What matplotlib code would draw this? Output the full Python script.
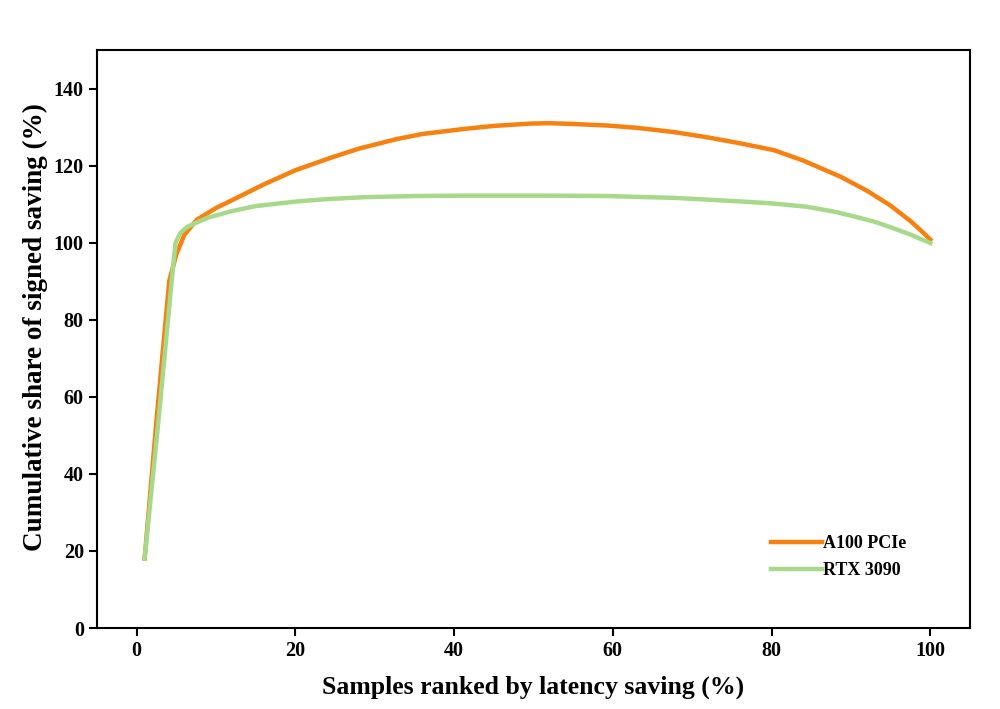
import matplotlib.pyplot as plt
import numpy as np

plt.rcParams['font.family'] = ['Liberation Serif', 'DejaVu Serif']
plt.rcParams['font.weight'] = 'bold'

a100_x = [1, 2.5, 4.1, 5, 6, 7.6, 10, 12, 16, 20, 24.4, 28, 32.8, 36, 41.2, 45, 49.6, 52,
          55, 59.3, 63, 67.7, 72, 76, 80.3, 84, 88.7, 92, 95, 97.5, 99, 100]
a100_y = [18, 54, 90, 97, 102, 106, 109, 111, 115.1, 118.8, 122, 124.4, 126.9, 128.2, 129.5,
          130.3, 130.9, 131, 130.8, 130.4, 129.8, 128.7, 127.3, 125.8, 124, 121.3, 117.1,
          113.5, 109.6, 105.6, 102.8, 100.8]

rtx_x = [1, 2.8, 4.5, 4.9, 5.5, 6.3, 7.3, 9, 11.8, 15, 20.2, 24, 28.6, 35, 41.2, 51.7,
         59.3, 68, 76.1, 80, 84.5, 88, 90.8, 93, 95, 97.5, 100]
rtx_y = [18, 55, 92, 100, 102.5, 104, 105, 106.5, 108.1, 109.5, 110.7, 111.3, 111.8, 112.1,
         112.2, 112.2, 112.1, 111.6, 110.7, 110.2, 109.3, 108, 106.6, 105.4, 104, 102.1, 99.9]

fig = plt.figure(figsize=(10, 7.09), dpi=100)
ax = fig.add_axes([0.097, 0.1142, 0.873, 0.8153])

ax.plot(a100_x, a100_y, color='#F8800F', lw=3.2, label='A100 PCIe')
ax.plot(rtx_x, rtx_y, color='#A8D98A', lw=3.2, label='RTX 3090')

ax.set_xlim(-5, 105)
ax.set_ylim(0, 150)
ax.set_xticks(np.arange(0, 101, 20))
ax.set_yticks(np.arange(0, 141, 20))
ax.tick_params(direction='out', length=6, width=1.5, labelsize=14.5)
for s in ax.spines.values():
    s.set_linewidth(1.5)

ax.set_xlabel('Samples ranked by latency saving (%)', fontsize=18.5, fontweight='bold', labelpad=10)
ax.set_ylabel('Cumulative share of signed saving (%)', fontsize=19.5, fontweight='bold', labelpad=4)
ax.yaxis.label.set_y(0.52)

ax.legend(loc='lower right', frameon=False, fontsize=13, handlelength=2.8,
          handletextpad=0.1, labelspacing=0.55, bbox_to_anchor=(0.946, 0.056))

fig.savefig('out.png', dpi=100)
